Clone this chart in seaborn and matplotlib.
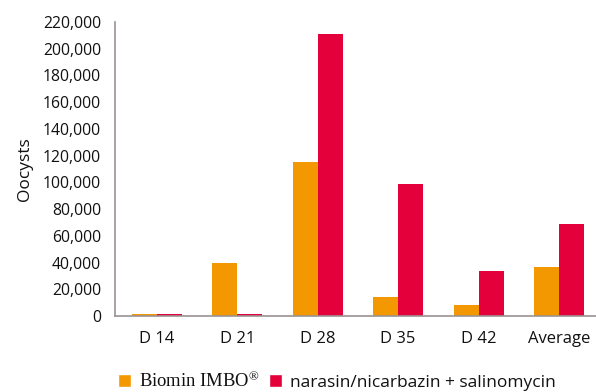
import matplotlib
matplotlib.use("Agg")
import matplotlib.pyplot as plt
import seaborn as sns
import pandas as pd
from matplotlib.ticker import FuncFormatter
from matplotlib.patches import Patch

categories = ["D 14", "D 21", "D 28", "D 35", "D 42", "Average"]
series_names = ["Biomin IMBO$^{\u00ae}$", "narasin/nicarbazin + salinomycin"]
imbo = [1200, 40000, 115400, 14100, 8600, 36300]
narasin = [1200, 1500, 211200, 98600, 33800, 68700]
yticks = list(range(0, 220001, 20000))

df = pd.DataFrame({
    "day": categories * 2,
    "group": [series_names[0]] * len(categories) + [series_names[1]] * len(categories),
    "oocysts": imbo + narasin,
})

sns.set_style("white")
plt.rcParams["font.family"] = ["Open Sans", "DejaVu Sans"]
plt.rcParams["mathtext.fontset"] = "custom"
plt.rcParams["mathtext.rm"] = "Liberation Serif"
plt.rcParams["mathtext.it"] = "Liberation Serif"

orange = "#F39800"
red = "#E4003B"
txt = "#111111"

fig = plt.figure(figsize=(5.96, 3.92), dpi=100)
ax = fig.add_axes([115 / 596, 1 - 316 / 392, (596 - 115) / 596, (316 - 22) / 392])
sns.barplot(data=df, x="day", y="oocysts", hue="group", palette=[orange, red],
            width=0.62, gap=0, ax=ax, legend=False, saturation=1, linewidth=0)

ax.set_ylim(0, 220000)
ax.set_xlim(-0.52, 5.46)
ax.set_yticks(yticks)
ax.yaxis.set_major_formatter(FuncFormatter(lambda v, p: f"{int(v):,}"))
ax.tick_params(axis="both", length=0, colors=txt)
ax.tick_params(axis="y", labelsize=11.3, pad=10)
ax.tick_params(axis="x", labelsize=12, pad=11)
ax.set_xlabel("")
ax.set_ylabel("Oocysts", fontsize=12.5, color=txt, labelpad=7)
for s in ["top", "right"]:
    ax.spines[s].set_visible(False)
for s in ["left", "bottom"]:
    ax.spines[s].set_color("#9a9392")
    ax.spines[s].set_linewidth(1.2)

handles = [Patch(facecolor=orange), Patch(facecolor=red)]
leg = fig.legend(handles, series_names, loc="center", bbox_to_anchor=(337 / 596, 1 - 381 / 392),
                 ncol=2, frameon=False, fontsize=12.5, handlelength=0.75, handleheight=0.75,
                 handletextpad=0.5, columnspacing=0.5, labelcolor=txt)
leg.get_texts()[0].set_fontfamily(["Liberation Serif", "DejaVu Serif"])
leg.get_texts()[0].set_fontsize(13.4)

fig.savefig("out.png", dpi=100)
